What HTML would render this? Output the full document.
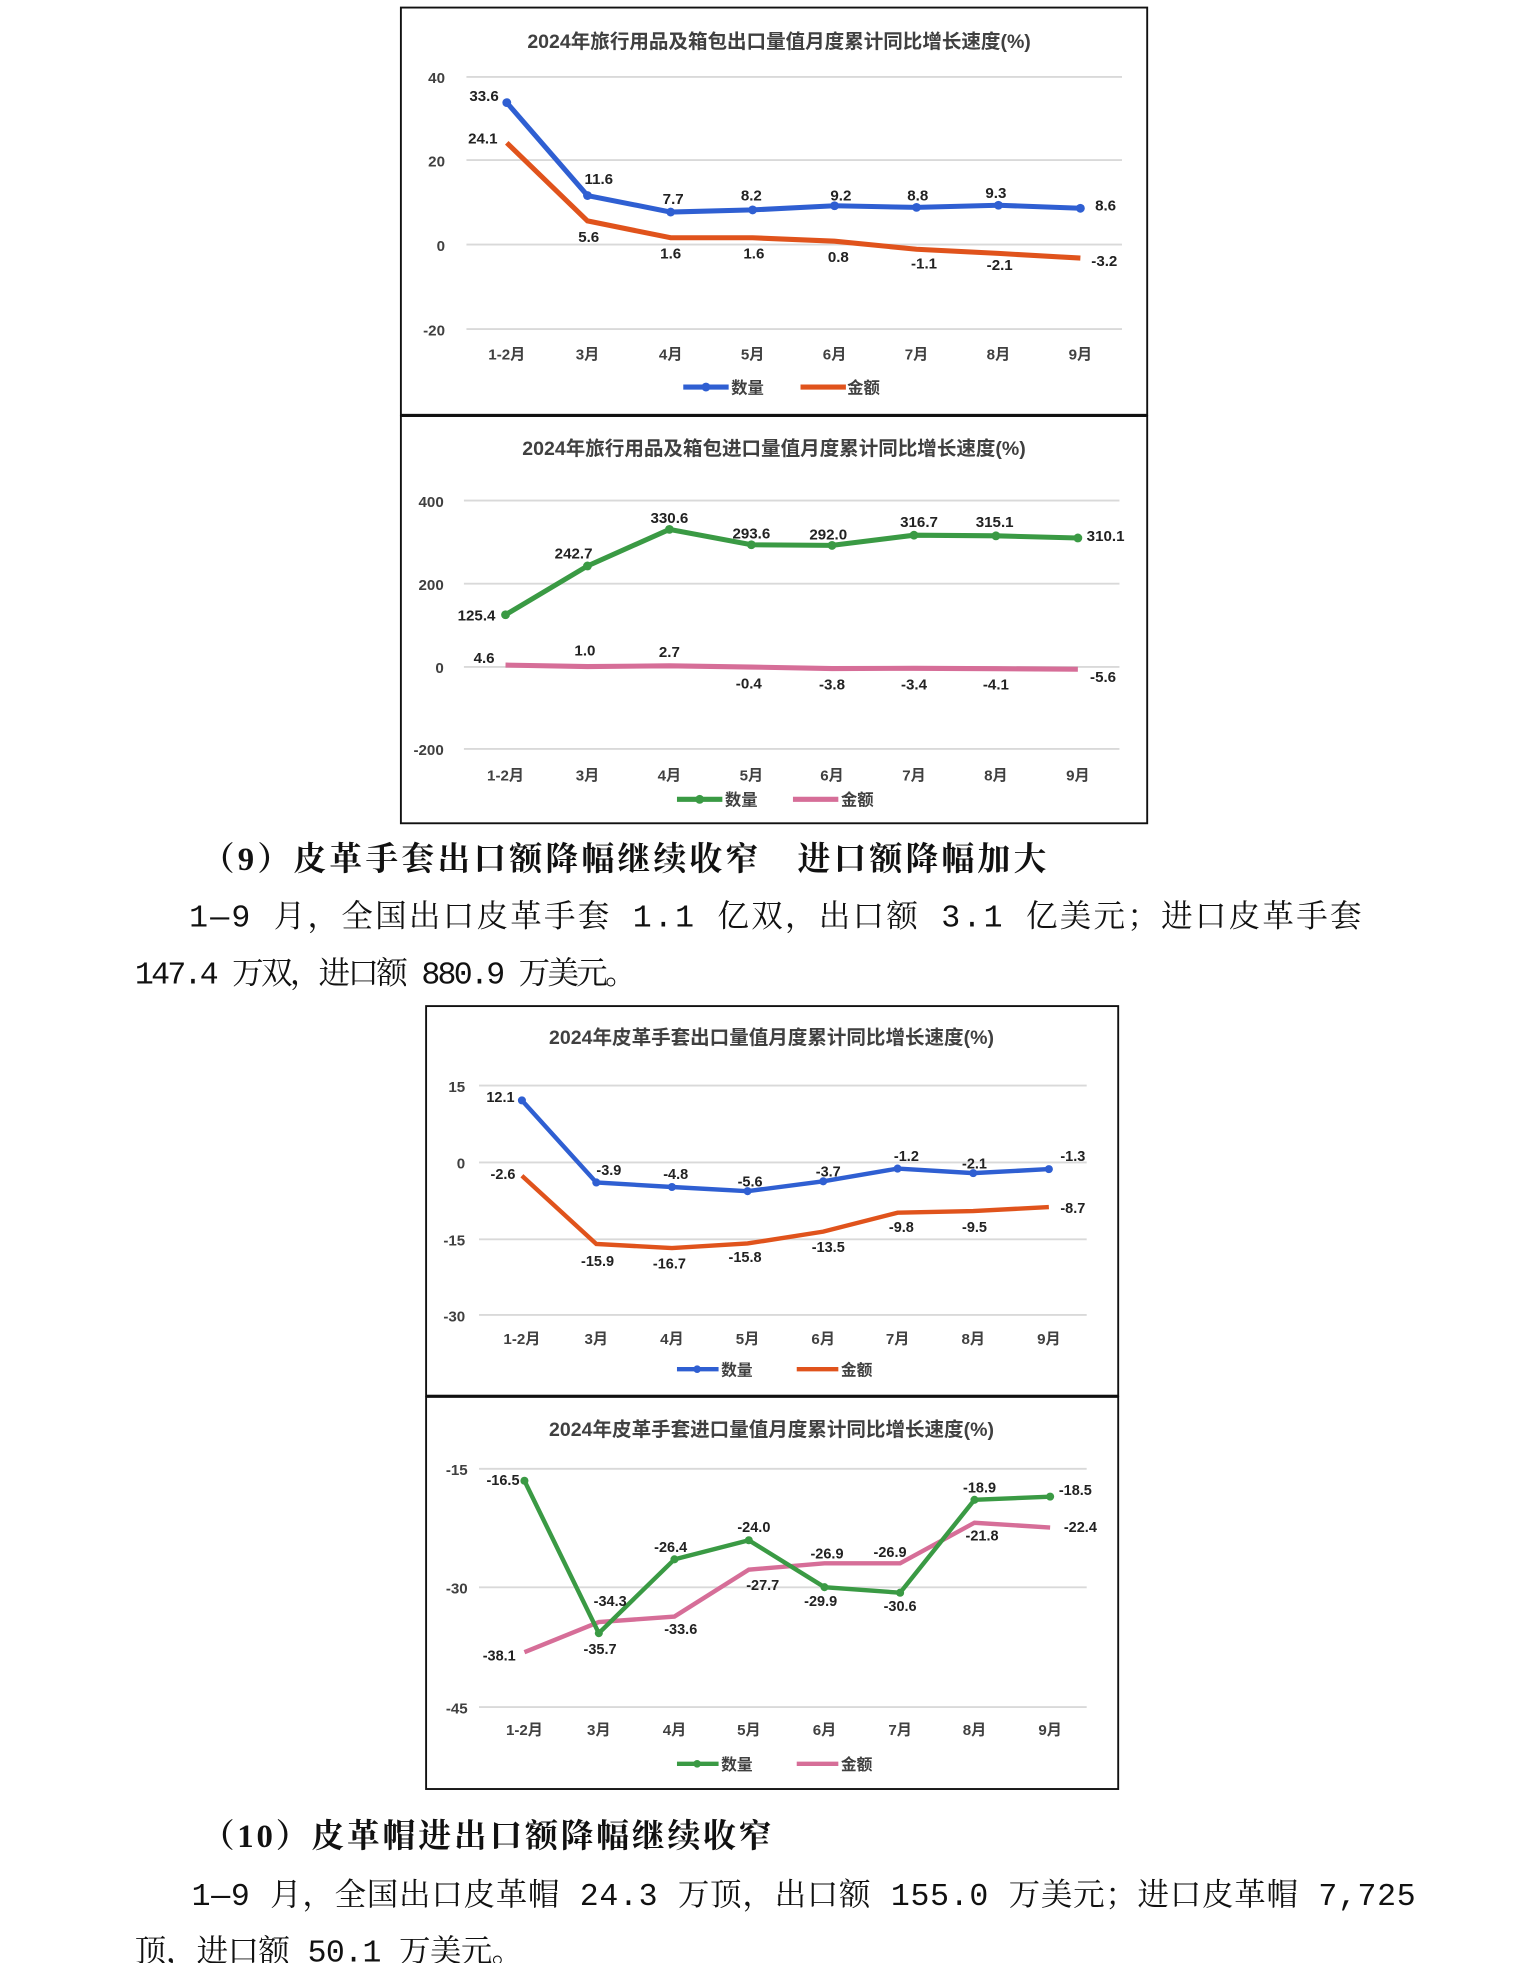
<!DOCTYPE html>
<html><head><meta charset="utf-8"><style>
html,body{margin:0;padding:0;background:#fff;}
svg{display:block;}
.t{font-family:"Liberation Sans","Noto Sans CJK SC",sans-serif;font-weight:bold;fill:#404040;}
.ti{font-size:15.5px;text-anchor:middle;}
.ax{font-size:12px;text-anchor:middle;}
.lb{font-size:12px;text-anchor:middle;fill:#222;}
.p{font-family:"Liberation Mono","Noto Serif CJK SC",serif;font-size:25px;fill:#111;}
.h{font-family:"Liberation Serif","Noto Serif CJK SC",serif;font-size:26px;fill:#111;font-weight:bold;}
.g{stroke:#d9d9d9;stroke-width:1.5;}
.box{fill:none;stroke:#111;stroke-width:1.5;}
</style></head><body>
<svg width="1538" height="1963" viewBox="0 0 1220 1557" preserveAspectRatio="none" xmlns="http://www.w3.org/2000/svg">
<rect width="1220" height="1557" fill="#fff"/>

<!-- Chart 1 -->
<rect class="box" x="318" y="6" width="592" height="323"/>
<text class="t ti" x="618" y="38">2024年旅行用品及箱包出口量值月度累计同比增长速度(%)</text>
<g class="g"><line x1="370" y1="61" x2="890" y2="61"/><line x1="370" y1="127" x2="890" y2="127"/><line x1="370" y1="194" x2="890" y2="194"/><line x1="370" y1="261" x2="890" y2="261"/></g>
<g class="t ax" style="text-anchor:end"><text x="353" y="66">40</text><text x="353" y="132">20</text><text x="353" y="199">0</text><text x="353" y="266">-20</text></g>
<g class="t ax"><text x="402" y="285">1-2月</text><text x="466" y="285">3月</text><text x="532" y="285">4月</text><text x="597" y="285">5月</text><text x="662" y="285">6月</text><text x="727" y="285">7月</text><text x="792" y="285">8月</text><text x="857" y="285">9月</text></g>
<polyline fill="none" stroke="#2f5fd2" stroke-width="4" points="402,81.4 466,155.1 532,168.2 597,166.5 662,163.2 727,164.5 792,162.8 857,165.2"/>
<g fill="#2f5fd2"><circle cx="402" cy="81.4" r="3.5"/><circle cx="466" cy="155.1" r="3.5"/><circle cx="532" cy="168.2" r="3.5"/><circle cx="597" cy="166.5" r="3.5"/><circle cx="662" cy="163.2" r="3.5"/><circle cx="727" cy="164.5" r="3.5"/><circle cx="792" cy="162.8" r="3.5"/><circle cx="857" cy="165.2" r="3.5"/></g>
<polyline fill="none" stroke="#e0531c" stroke-width="4" points="402,113.3 466,175.2 532,188.6 597,188.6 662,191.3 727,197.7 792,201 857,204.7"/>
<g class="t lb"><text x="384" y="80">33.6</text><text x="383" y="114">24.1</text><text x="475" y="146">11.6</text><text x="467" y="192">5.6</text><text x="534" y="162">7.7</text><text x="532" y="205">1.6</text><text x="596" y="159">8.2</text><text x="598" y="205">1.6</text><text x="667" y="159">9.2</text><text x="665" y="208">0.8</text><text x="728" y="159">8.8</text><text x="733" y="213">-1.1</text><text x="790" y="157">9.3</text><text x="793" y="214">-2.1</text><text x="877" y="167">8.6</text><text x="876" y="211">-3.2</text></g>
<line x1="542" y1="307" x2="578" y2="307" stroke="#2f5fd2" stroke-width="4"/><circle cx="560" cy="307" r="3.5" fill="#2f5fd2"/>
<text class="t" x="580" y="312" style="font-size:13px">数量</text>
<line x1="635" y1="307" x2="671" y2="307" stroke="#e0531c" stroke-width="4"/>
<text class="t" x="672" y="312" style="font-size:13px">金额</text>

<!-- Chart 2 -->
<rect class="box" x="318" y="330" width="592" height="323"/>
<text class="t ti" x="614" y="361">2024年旅行用品及箱包进口量值月度累计同比增长速度(%)</text>
<g class="g"><line x1="368" y1="397" x2="888" y2="397"/><line x1="368" y1="463" x2="888" y2="463"/><line x1="368" y1="529" x2="888" y2="529"/><line x1="368" y1="594" x2="888" y2="594"/></g>
<g class="t ax" style="text-anchor:end"><text x="352" y="402">400</text><text x="352" y="468">200</text><text x="352" y="534">0</text><text x="352" y="599">-200</text></g>
<g class="t ax"><text x="401" y="619">1-2月</text><text x="466" y="619">3月</text><text x="531" y="619">4月</text><text x="596" y="619">5月</text><text x="660" y="619">6月</text><text x="725" y="619">7月</text><text x="790" y="619">8月</text><text x="855" y="619">9月</text></g>
<polyline fill="none" stroke="#3a9a44" stroke-width="4" points="401,487.6 466,448.9 531,419.9 596,432.1 660,432.6 725,424.5 790,425 855,426.7"/>
<g fill="#3a9a44"><circle cx="401" cy="487.6" r="3.5"/><circle cx="466" cy="448.9" r="3.5"/><circle cx="531" cy="419.9" r="3.5"/><circle cx="596" cy="432.1" r="3.5"/><circle cx="660" cy="432.6" r="3.5"/><circle cx="725" cy="424.5" r="3.5"/><circle cx="790" cy="425" r="3.5"/><circle cx="855" cy="426.7" r="3.5"/></g>
<polyline fill="none" stroke="#d66e98" stroke-width="4" points="401,527.5 466,528.7 531,528.1 596,529.1 660,530.3 725,530.1 790,530.4 855,530.8"/>
<g class="t lb"><text x="378" y="492">125.4</text><text x="384" y="526">4.6</text><text x="455" y="443">242.7</text><text x="464" y="520">1.0</text><text x="531" y="415">330.6</text><text x="531" y="521">2.7</text><text x="596" y="427">293.6</text><text x="594" y="546">-0.4</text><text x="657" y="428">292.0</text><text x="660" y="547">-3.8</text><text x="729" y="418">316.7</text><text x="725" y="547">-3.4</text><text x="789" y="418">315.1</text><text x="790" y="547">-4.1</text><text x="877" y="429">310.1</text><text x="875" y="541">-5.6</text></g>
<line x1="537" y1="634" x2="573" y2="634" stroke="#3a9a44" stroke-width="4"/><circle cx="555" cy="634" r="3.5" fill="#3a9a44"/>
<text class="t" x="575" y="639" style="font-size:13px">数量</text>
<line x1="629" y1="634" x2="665" y2="634" stroke="#d66e98" stroke-width="4"/>
<text class="t" x="667" y="639" style="font-size:13px">金额</text>

<!-- Section 9 -->
<text class="h" x="160" y="690" textLength="670" lengthAdjust="spacing">（9）皮革手套出口额降幅继续收窄　进口额降幅加大</text>
<text class="p" x="150" y="735" textLength="930" lengthAdjust="spacing">1—9 月，全国出口皮革手套 1.1 亿双，出口额 3.1 亿美元；进口皮革手套</text>
<text class="p" x="107" y="780" textLength="398" lengthAdjust="spacing">147.4 万双，进口额 880.9 万美元。</text>

<!-- Chart 3 -->
<rect class="box" x="338" y="798" width="549" height="309"/>
<text class="t ti" x="612" y="828">2024年皮革手套出口量值月度累计同比增长速度(%)</text>
<g class="g"><line x1="380" y1="861" x2="862" y2="861"/><line x1="380" y1="922" x2="862" y2="922"/><line x1="380" y1="983" x2="862" y2="983"/><line x1="380" y1="1043" x2="862" y2="1043"/></g>
<g class="t ax" style="text-anchor:end"><text x="369" y="866">15</text><text x="369" y="927">0</text><text x="369" y="988">-15</text><text x="369" y="1048">-30</text></g>
<g class="t ax"><text x="414" y="1066">1-2月</text><text x="473" y="1066">3月</text><text x="533" y="1066">4月</text><text x="593" y="1066">5月</text><text x="653" y="1066">6月</text><text x="712" y="1066">7月</text><text x="772" y="1066">8月</text><text x="832" y="1066">9月</text></g>
<polyline fill="none" stroke="#2f5fd2" stroke-width="3.5" points="414,872.8 473,937.9 533,941.5 593,944.8 653,937 712,926.9 772,930.5 832,927.3"/>
<g fill="#2f5fd2"><circle cx="414" cy="872.8" r="3.2"/><circle cx="473" cy="937.9" r="3.2"/><circle cx="533" cy="941.5" r="3.2"/><circle cx="593" cy="944.8" r="3.2"/><circle cx="653" cy="937" r="3.2"/><circle cx="712" cy="926.9" r="3.2"/><circle cx="772" cy="930.5" r="3.2"/><circle cx="832" cy="927.3" r="3.2"/></g>
<polyline fill="none" stroke="#e0531c" stroke-width="3.5" points="414,932.6 473,986.7 533,989.9 593,986.3 653,976.9 712,961.9 772,960.6 832,957.4"/>
<g class="t lb" style="font-size:11.5px"><text x="397" y="874">12.1</text><text x="399" y="935">-2.6</text><text x="483" y="932">-3.9</text><text x="474" y="1004">-15.9</text><text x="536" y="935">-4.8</text><text x="531" y="1006">-16.7</text><text x="595" y="941">-5.6</text><text x="591" y="1001">-15.8</text><text x="657" y="933">-3.7</text><text x="657" y="993">-13.5</text><text x="719" y="921">-1.2</text><text x="715" y="977">-9.8</text><text x="773" y="927">-2.1</text><text x="773" y="977">-9.5</text><text x="851" y="921">-1.3</text><text x="851" y="962">-8.7</text></g>
<line x1="537" y1="1086" x2="570" y2="1086" stroke="#2f5fd2" stroke-width="3.5"/><circle cx="553" cy="1086" r="3" fill="#2f5fd2"/>
<text class="t" x="572" y="1091" style="font-size:12.5px">数量</text>
<line x1="632" y1="1086" x2="665" y2="1086" stroke="#e0531c" stroke-width="3.5"/>
<text class="t" x="667" y="1091" style="font-size:12.5px">金额</text>

<!-- Chart 4 -->
<rect class="box" x="338" y="1108" width="549" height="311"/>
<text class="t ti" x="612" y="1139">2024年皮革手套进口量值月度累计同比增长速度(%)</text>
<g class="g"><line x1="380" y1="1165" x2="862" y2="1165"/><line x1="380" y1="1259" x2="862" y2="1259"/><line x1="380" y1="1354" x2="862" y2="1354"/></g>
<g class="t ax" style="text-anchor:end"><text x="371" y="1170">-15</text><text x="371" y="1264">-30</text><text x="371" y="1359">-45</text></g>
<g class="t ax"><text x="416" y="1376">1-2月</text><text x="475" y="1376">3月</text><text x="535" y="1376">4月</text><text x="594" y="1376">5月</text><text x="654" y="1376">6月</text><text x="714" y="1376">7月</text><text x="773" y="1376">8月</text><text x="833" y="1376">9月</text></g>
<polyline fill="none" stroke="#d66e98" stroke-width="3.5" points="416,1310.5 475,1286.6 535,1282.2 594,1245 654,1240 714,1240 773,1207.8 833,1211.6"/>
<polyline fill="none" stroke="#3a9a44" stroke-width="3.5" points="416,1174.5 475,1295.4 535,1236.8 594,1221.7 654,1258.9 714,1263.3 773,1189.6 833,1187.1"/>
<g fill="#3a9a44"><circle cx="416" cy="1174.5" r="3.2"/><circle cx="475" cy="1295.4" r="3.2"/><circle cx="535" cy="1236.8" r="3.2"/><circle cx="594" cy="1221.7" r="3.2"/><circle cx="654" cy="1258.9" r="3.2"/><circle cx="714" cy="1263.3" r="3.2"/><circle cx="773" cy="1189.6" r="3.2"/><circle cx="833" cy="1187.1" r="3.2"/></g>
<g class="t lb" style="font-size:11.5px"><text x="399" y="1178">-16.5</text><text x="396" y="1317">-38.1</text><text x="484" y="1274">-34.3</text><text x="476" y="1312">-35.7</text><text x="532" y="1231">-26.4</text><text x="540" y="1296">-33.6</text><text x="598" y="1215">-24.0</text><text x="605" y="1261">-27.7</text><text x="656" y="1236">-26.9</text><text x="651" y="1274">-29.9</text><text x="706" y="1235">-26.9</text><text x="714" y="1278">-30.6</text><text x="777" y="1184">-18.9</text><text x="779" y="1222">-21.8</text><text x="853" y="1186">-18.5</text><text x="857" y="1215">-22.4</text></g>
<line x1="537" y1="1399" x2="570" y2="1399" stroke="#3a9a44" stroke-width="3.5"/><circle cx="553" cy="1399" r="3" fill="#3a9a44"/>
<text class="t" x="572" y="1404" style="font-size:12.5px">数量</text>
<line x1="632" y1="1399" x2="665" y2="1399" stroke="#d66e98" stroke-width="3.5"/>
<text class="t" x="667" y="1404" style="font-size:12.5px">金额</text>

<!-- Section 10 -->
<text class="h" x="160" y="1465" textLength="452" lengthAdjust="spacing">（10）皮革帽进出口额降幅继续收窄</text>
<text class="p" x="152" y="1511" textLength="971" lengthAdjust="spacing">1—9 月，全国出口皮革帽 24.3 万顶，出口额 155.0 万美元；进口皮革帽 7,725</text>
<text class="p" x="107" y="1556" textLength="308" lengthAdjust="spacing">顶，进口额 50.1 万美元。</text>
</svg>
</body></html>
